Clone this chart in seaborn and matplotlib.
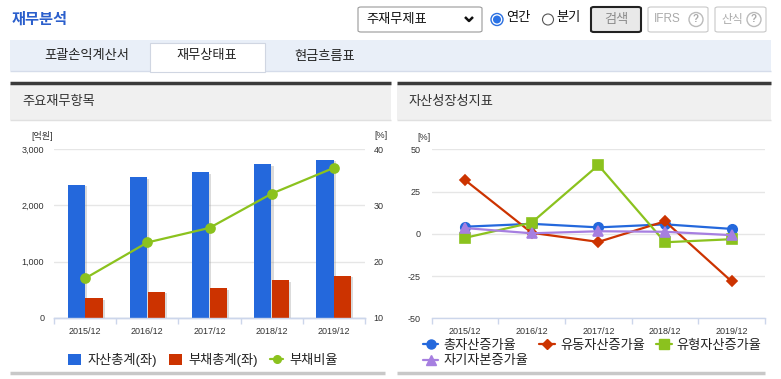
import matplotlib
matplotlib.use("Agg")
import matplotlib.pyplot as plt
import matplotlib.patches as mpatches
import matplotlib.patheffects as pe
from matplotlib.lines import Line2D
from matplotlib.ticker import FuncFormatter, FixedLocator
import numpy as np
import pandas as pd
import seaborn as sns

# ---------------- data ----------------
years = ["2015/12", "2016/12", "2017/12", "2018/12", "2019/12"]
total_assets = [2365, 2500, 2590, 2732, 2810]          # 자산총계(좌) [억원]
total_liab = [346, 463, 524, 667, 749]                   # 부채총계(좌) [억원]
debt_ratio = [17.0, 23.4, 26.0, 32.1, 36.7]              # 부채비율 [%]

growth_names = ["총자산증가율", "유동자산증가율", "유형자산증가율", "자기자본증가율"]
g_total = [4.2, 5.9, 3.8, 5.6, 2.9]
g_current = [31.8, 0.6, -4.8, 7.4, -28.2]
g_tangible = [-2.4, 6.6, 40.6, -5.0, -3.2]
g_equity = [3.4, 0.3, 1.5, 1.2, -0.8]

left_yticks = [0, 1000, 2000, 3000]
right_ratio_ticks = [10, 20, 30, 40]
growth_ticks = [-50, -25, 0, 25, 50]

BLUE = "#2468dc"
RED = "#cc3300"
GREEN = "#8bc21e"
PURPLE = "#a67fe0"
AXC = "#ccd6eb"
GRIDC = "#e6e6e6"
TXT = "#333333"

sns.set_theme(style="white")
plt.rcParams["font.family"] = ["Liberation Sans", "Noto Sans CJK KR", "DejaVu Sans"]
plt.rcParams["axes.unicode_minus"] = False

W, H = 781, 379
fig = plt.figure(figsize=(W / 100, H / 100), dpi=100)
fig.patch.set_facecolor("white")


def fx(x):
    return x / W


def fy(y):
    return 1 - y / H


def rect(x0, y0, x1, y1, fc, ec="none", lw=0, rounded=0.0, z=0):
    if rounded > 0:
        p = mpatches.FancyBboxPatch((fx(x0), fy(y1)), fx(x1) - fx(x0), fy(y0) - fy(y1),
                                    boxstyle=f"round,pad=0,rounding_size={rounded / W}",
                                    transform=fig.transFigure, fc=fc, ec=ec, lw=lw, zorder=z)
    else:
        p = mpatches.Rectangle((fx(x0), fy(y1)), fx(x1) - fx(x0), fy(y0) - fy(y1),
                               transform=fig.transFigure, fc=fc, ec=ec, lw=lw, zorder=z)
    fig.patches.append(p)
    return p


def circ(x, y, d, fc, ec="none", lw=0, z=2):
    fig.patches.append(mpatches.Ellipse((fx(x), fy(y)), d / W, d / H, transform=fig.transFigure,
                                        fc=fc, ec=ec, lw=lw, zorder=z))


def line(xs, ys, color, lw, z=1):
    fig.lines.append(Line2D([fx(v) for v in xs], [fy(v) for v in ys], color=color, lw=lw,
                            transform=fig.transFigure, zorder=z, solid_capstyle="butt"))


def text(x, y, s, size, color=TXT, ha="left", va="center", weight="normal"):
    fig.text(fx(x), fy(y), s, fontsize=size, color=color, ha=ha, va=va, fontweight=weight)


# ---------------- top UI ----------------
text(12, 20, "재무분석", 11, color="#2b5fcc", weight="bold")

rect(358, 7, 482, 32, "white", ec="#9a9a9a", lw=0.8, rounded=3, z=1)
text(366, 19.5, "주재무제표", 9.5, color="#111111")
line([465, 469, 473], [17, 21, 17], "#111111", 1.8, z=2)

# radios
circ(497, 19.5, 12, "white", ec="#2a6fe0", lw=1.0, z=2)
circ(497, 19.5, 8, "#2a72e6", z=3)
text(506, 18.5, "연간", 9.5, color="#111111")
circ(548, 19.5, 11, "white", ec="#555555", lw=0.8, z=2)
text(556, 18.5, "분기", 9.5, color="#111111")

rect(591, 7, 641, 32, "#e9e9e9", ec="#222222", lw=1.5, rounded=3, z=1)
text(616, 19.5, "검색", 9.5, color="#8a8a8a", ha="center")

for x0, x1, lab, tx in [(648, 708, "IFRS", 654), (715, 766, "산식", 721)]:
    rect(x0, 7, x1, 32, "white", ec="#c8c8c8", lw=0.8, rounded=3, z=1)
    text(tx, 19.5, lab, 8.5, color="#aaaaaa")
    cx = x1 - 12
    circ(cx, 19.5, 14, "white", ec="#bbbbbb", lw=1.0, z=2)
    text(cx, 19.5, "?", 7, color="#aaaaaa", ha="center", weight="bold")

# tab bar
rect(10, 40, 771, 71, "#e9eff8", z=0)
line([10, 771], [71, 71], "#d5dcea", 1.0)
rect(150, 43, 265, 72, "white", ec="#d0d6e2", lw=0.8, z=1)
text(87, 56.5, "포괄손익계산서", 9.5, color="#222222", ha="center")
text(207, 56.5, "재무상태표", 9.5, color="#222222", ha="center")
text(325, 56.5, "현금흐름표", 9.5, color="#222222", ha="center")

# panel headers
for x0, x1, lab in [(10, 391, "주요재무항목"), (397, 771, "자산성장성지표")]:
    rect(x0, 84, x1, 120, "#f0f0f0", z=0)
    line([x0, x1], [83, 83], "#3a3a3a", 2.5)
    line([x0, x1], [120, 120], "#e0e0e0", 1.0)
    text(x0 + 12, 101.5, lab, 9.5, color="#333333")
    line([x0, x1 - 6], [373, 373], "#c8c8c8", 2.5)

# ---------------- left chart ----------------
ax1 = fig.add_axes([fx(54), fy(317.7), (365 - 54) / W, (317.7 - 149.3) / H])
bar_df = pd.DataFrame({
    "연도": years * 2,
    "값": total_assets + total_liab,
    "항목": ["자산총계(좌)"] * 5 + ["부채총계(좌)"] * 5,
})
sns.barplot(data=bar_df, x="연도", y="값", hue="항목", hue_order=["자산총계(좌)", "부채총계(좌)"],
            palette=[BLUE, RED], width=0.57, gap=0.03, saturation=1, legend=False, ax=ax1,
            zorder=3)
for p in ax1.patches:
    p.set_path_effects([pe.SimplePatchShadow(offset=(1.5, -1), shadow_rgbFace="#999999", alpha=0.35),
                        pe.Normal()])
    p.set_linewidth(0)
ax1.set_ylim(0, 3000)
ax1.set_xlim(-0.5, 4.5)
ax1.yaxis.set_major_locator(FixedLocator(left_yticks))
ax1.yaxis.set_major_formatter(FuncFormatter(lambda v, _: f"{v:,.0f}"))
ax1.grid(axis="y", color=GRIDC, lw=1.0, zorder=0)
ax1.set_axisbelow(True)
ax1.set_xlabel("")
ax1.set_ylabel("")

ax1r = ax1.twinx()
sns.pointplot(x=years, y=debt_ratio, ax=ax1r, color=GREEN, markers="o", markersize=6.5,
              linewidth=1.6, errorbar=None)
ax1r.set_ylim(10, 40)
ax1r.set_xlim(-0.5, 4.5)
ax1r.yaxis.set_major_locator(FixedLocator(right_ratio_ticks))
ax1r.set_ylabel("")
for a in (ax1, ax1r):
    for s in ("top", "left", "right"):
        a.spines[s].set_visible(False)
    a.spines["bottom"].set_color(AXC)
    a.spines["bottom"].set_linewidth(1.0)
    a.set_facecolor("none")
ax1.tick_params(axis="y", length=0, pad=7, labelsize=6.5, labelcolor=TXT)
ax1r.tick_params(axis="y", length=0, pad=6, labelsize=6.5, labelcolor=TXT)
ax1.xaxis.set_minor_locator(FixedLocator(np.arange(-0.5, 5.0, 1.0)))
ax1.tick_params(axis="x", which="major", length=0, pad=7, labelsize=6.5, labelcolor=TXT)
ax1.tick_params(axis="x", which="minor", length=4, width=1.0, color=AXC, direction="out",
                bottom=True)
ax1r.tick_params(axis="x", which="both", length=0)

text(31, 136, "[억원]", 6.5, color=TXT)
text(374, 136, "[%]", 6.5, color=TXT)

h_left = [mpatches.Patch(facecolor=BLUE, edgecolor="none"),
          mpatches.Patch(facecolor=RED, edgecolor="none"),
          Line2D([0], [0], color=GREEN, lw=1.6, marker="o", markersize=5.5)]
ax1.legend(h_left, ["자산총계(좌)", "부채총계(좌)", "부채비율"], ncol=3, loc="center",
           bbox_to_anchor=(fx(203), fy(360)), bbox_transform=fig.transFigure, frameon=False,
           fontsize=9.5, handlelength=1.0, handleheight=1.0, handletextpad=0.5,
           columnspacing=0.9, labelcolor="#222222")

# ---------------- right chart ----------------
ax2 = fig.add_axes([fx(431.7), fy(318.3), (765 - 431.7) / W, (318.3 - 149.3) / H])
g_df = pd.DataFrame({
    "연도": years * 4,
    "값": g_total + g_current + g_tangible + g_equity,
    "지표": [n for n in growth_names for _ in years],
})
colors = [BLUE, RED, GREEN, PURPLE]
markers = ["o", "D", "s", "^"]
sns.pointplot(data=g_df, x="연도", y="값", hue="지표", hue_order=growth_names,
              palette=dict(zip(growth_names, colors)), markers=markers, linestyles="-",
              errorbar=None, markersize=6.5, linewidth=1.6, legend=False, ax=ax2)
msizes = [6.8, 5.2, 7.0, 7.0]
for ln, ms in zip(ax2.lines, msizes):
    ln.set_markersize(ms)
ax2.set_ylim(-50, 50)
ax2.set_xlim(-0.5, 4.5)
ax2.yaxis.set_major_locator(FixedLocator(growth_ticks))
ax2.yaxis.set_major_formatter(FuncFormatter(lambda v, _: f"{v:.0f}"))
ax2.grid(axis="y", color=GRIDC, lw=1.0)
ax2.set_axisbelow(True)
ax2.set_xlabel("")
ax2.set_ylabel("")
for s in ("top", "left", "right"):
    ax2.spines[s].set_visible(False)
ax2.spines["bottom"].set_color(AXC)
ax2.spines["bottom"].set_linewidth(1.0)
ax2.tick_params(axis="y", length=0, pad=8, labelsize=6.5, labelcolor=TXT)
ax2.xaxis.set_minor_locator(FixedLocator(np.arange(-0.5, 5.0, 1.0)))
ax2.tick_params(axis="x", which="major", length=0, pad=6, labelsize=6.5, labelcolor=TXT)
ax2.tick_params(axis="x", which="minor", length=4, width=1.0, color=AXC, direction="out",
                bottom=True)
text(417, 137, "[%]", 6.5, color=TXT)

h_right = [Line2D([0], [0], color=c, lw=1.6, marker=m, markersize=ms)
           for c, m, ms in zip(colors, markers, [6.5, 5.0, 6.5, 6.5])]
order = [0, 3, 1, 2]
ax2.legend([h_right[i] for i in order], [growth_names[i] for i in order], ncol=3,
           loc="upper left", bbox_to_anchor=(fx(416), fy(333)), bbox_transform=fig.transFigure,
           frameon=False, fontsize=9.5, handlelength=1.2, handletextpad=0.4,
           columnspacing=0.8, labelspacing=0.25, labelcolor="#222222", borderpad=0)

fig.savefig("out.png", dpi=100)
